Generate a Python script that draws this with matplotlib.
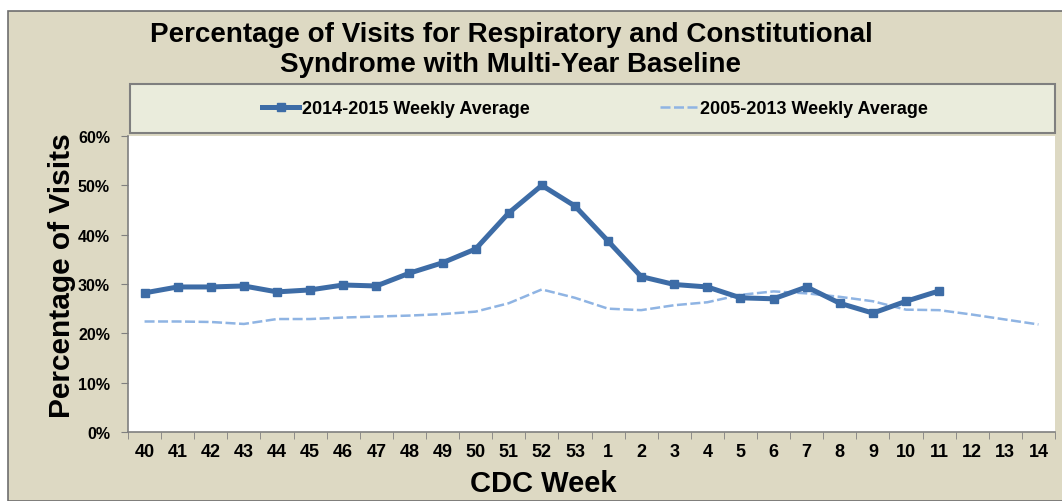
import numpy as np
import matplotlib.pyplot as plt
from matplotlib.patches import Rectangle
from matplotlib.ticker import FuncFormatter, FixedLocator

# CDC weeks on the x axis
weeks = ['40', '41', '42', '43', '44', '45', '46', '47', '48', '49', '50', '51', '52', '53',
         '1', '2', '3', '4', '5', '6', '7', '8', '9', '10', '11', '12', '13', '14']

# 2014-2015 weekly average (%), data stops at week 11
season_2014 = [28.2, 29.4, 29.4, 29.6, 28.4, 28.8, 29.8, 29.6, 32.2, 34.3, 37.1, 44.4, 50.0, 45.8,
               38.7, 31.5, 29.9, 29.4, 27.2, 27.0, 29.4, 26.1, 24.1, 26.5, 28.6]

# 2005-2013 baseline weekly average (%)
baseline = [22.4, 22.4, 22.3, 21.9, 22.9, 22.9, 23.2, 23.4, 23.6, 23.9, 24.4, 26.1, 28.9, 27.2,
            25.0, 24.7, 25.7, 26.3, 27.8, 28.5, 28.1, 27.4, 26.5, 24.8, 24.7, 23.8, 22.8, 21.8]

label_2014 = '2014-2015 Weekly Average'
label_base = '2005-2013 Weekly Average'

W, H = 1062, 502
BEIGE = '#ddd9c3'
SOLID = '#3d6ca6'
DASH = '#8fb4e3'

plt.rcParams['font.family'] = ['Liberation Sans', 'DejaVu Sans']

fig = plt.figure(figsize=(W / 100, H / 100), dpi=100, facecolor='white')

# beige chart frame (the picture is cropped on the right)
fig.patches.append(Rectangle((8 / W, 0), 1.0, 1 - 12 / H, transform=fig.transFigure,
                             facecolor=BEIGE, edgecolor='#6e6e6e', linewidth=1.2, zorder=-2))

# legend box
fig.patches.append(Rectangle((130 / W, 1 - 134 / H), 925 / W, 49 / H, transform=fig.transFigure,
                             facecolor='#eaecdc', edgecolor='#7f7f7f', linewidth=1.5, zorder=-1))

ax = fig.add_axes([128 / W, 1 - 433 / H, 927 / W, 296 / H])
ax.set_zorder(2)
ax.set_facecolor('white')

x = np.arange(len(weeks))
ax.plot(x[:len(season_2014)], season_2014, color=SOLID, linewidth=3.6, marker='s',
        markersize=6, label=label_2014, zorder=3)
ax.plot(x, baseline, color=DASH, linewidth=1.8, linestyle=(0, (4, 1.4)), label=label_base, zorder=2)

ax.set_xlim(-0.5, len(weeks) - 0.5)
ax.set_ylim(0, 60)
ax.set_yticks(np.arange(0, 61, 10))
ax.yaxis.set_major_formatter(FuncFormatter(lambda v, p: f'{v:.0f}%'))

ax.set_xticks(x)
ax.set_xticklabels(weeks)
ax.xaxis.set_minor_locator(FixedLocator(np.arange(-0.5, len(weeks), 1.0)))
ax.tick_params(axis='x', which='major', length=0, pad=8, labelsize=13)
ax.tick_params(axis='x', which='minor', length=5, color='#7f7f7f', direction='out')
ax.tick_params(axis='y', length=5, color='#7f7f7f', direction='out', labelsize=11.5, pad=8)
for lab in ax.get_xticklabels() + ax.get_yticklabels():
    lab.set_fontweight('bold')

for side in ['top', 'right']:
    ax.spines[side].set_visible(False)
for side in ['left', 'bottom']:
    ax.spines[side].set_color('#7f7f7f')
    ax.spines[side].set_linewidth(1.2)

fig.text(62 / W, 1 - 276 / H, 'Percentage of Visits', rotation=90, ha='center', va='center',
         fontsize=21.5, fontweight='bold')
fig.text(543 / W, 1 - 484 / H, 'CDC Week', ha='center', va='center', fontsize=21, fontweight='bold')

fig.text(511 / W, 1 - 50 / H, 'Percentage of Visits for Respiratory and Constitutional\n'
         'Syndrome with Multi-Year Baseline', ha='center', va='center', fontsize=20,
         fontweight='bold', linespacing=1.15)

handles, labels = ax.get_legend_handles_labels()
leg = fig.legend(handles, labels, loc='center', bbox_to_anchor=(595 / W, 1 - 110 / H), ncol=2,
                 frameon=False, prop={'weight': 'bold', 'size': 13}, handlelength=2.05,
                 handletextpad=0.15, columnspacing=7.2)
leg.set_zorder(5)

fig.savefig('out.png', dpi=100, facecolor='white')
